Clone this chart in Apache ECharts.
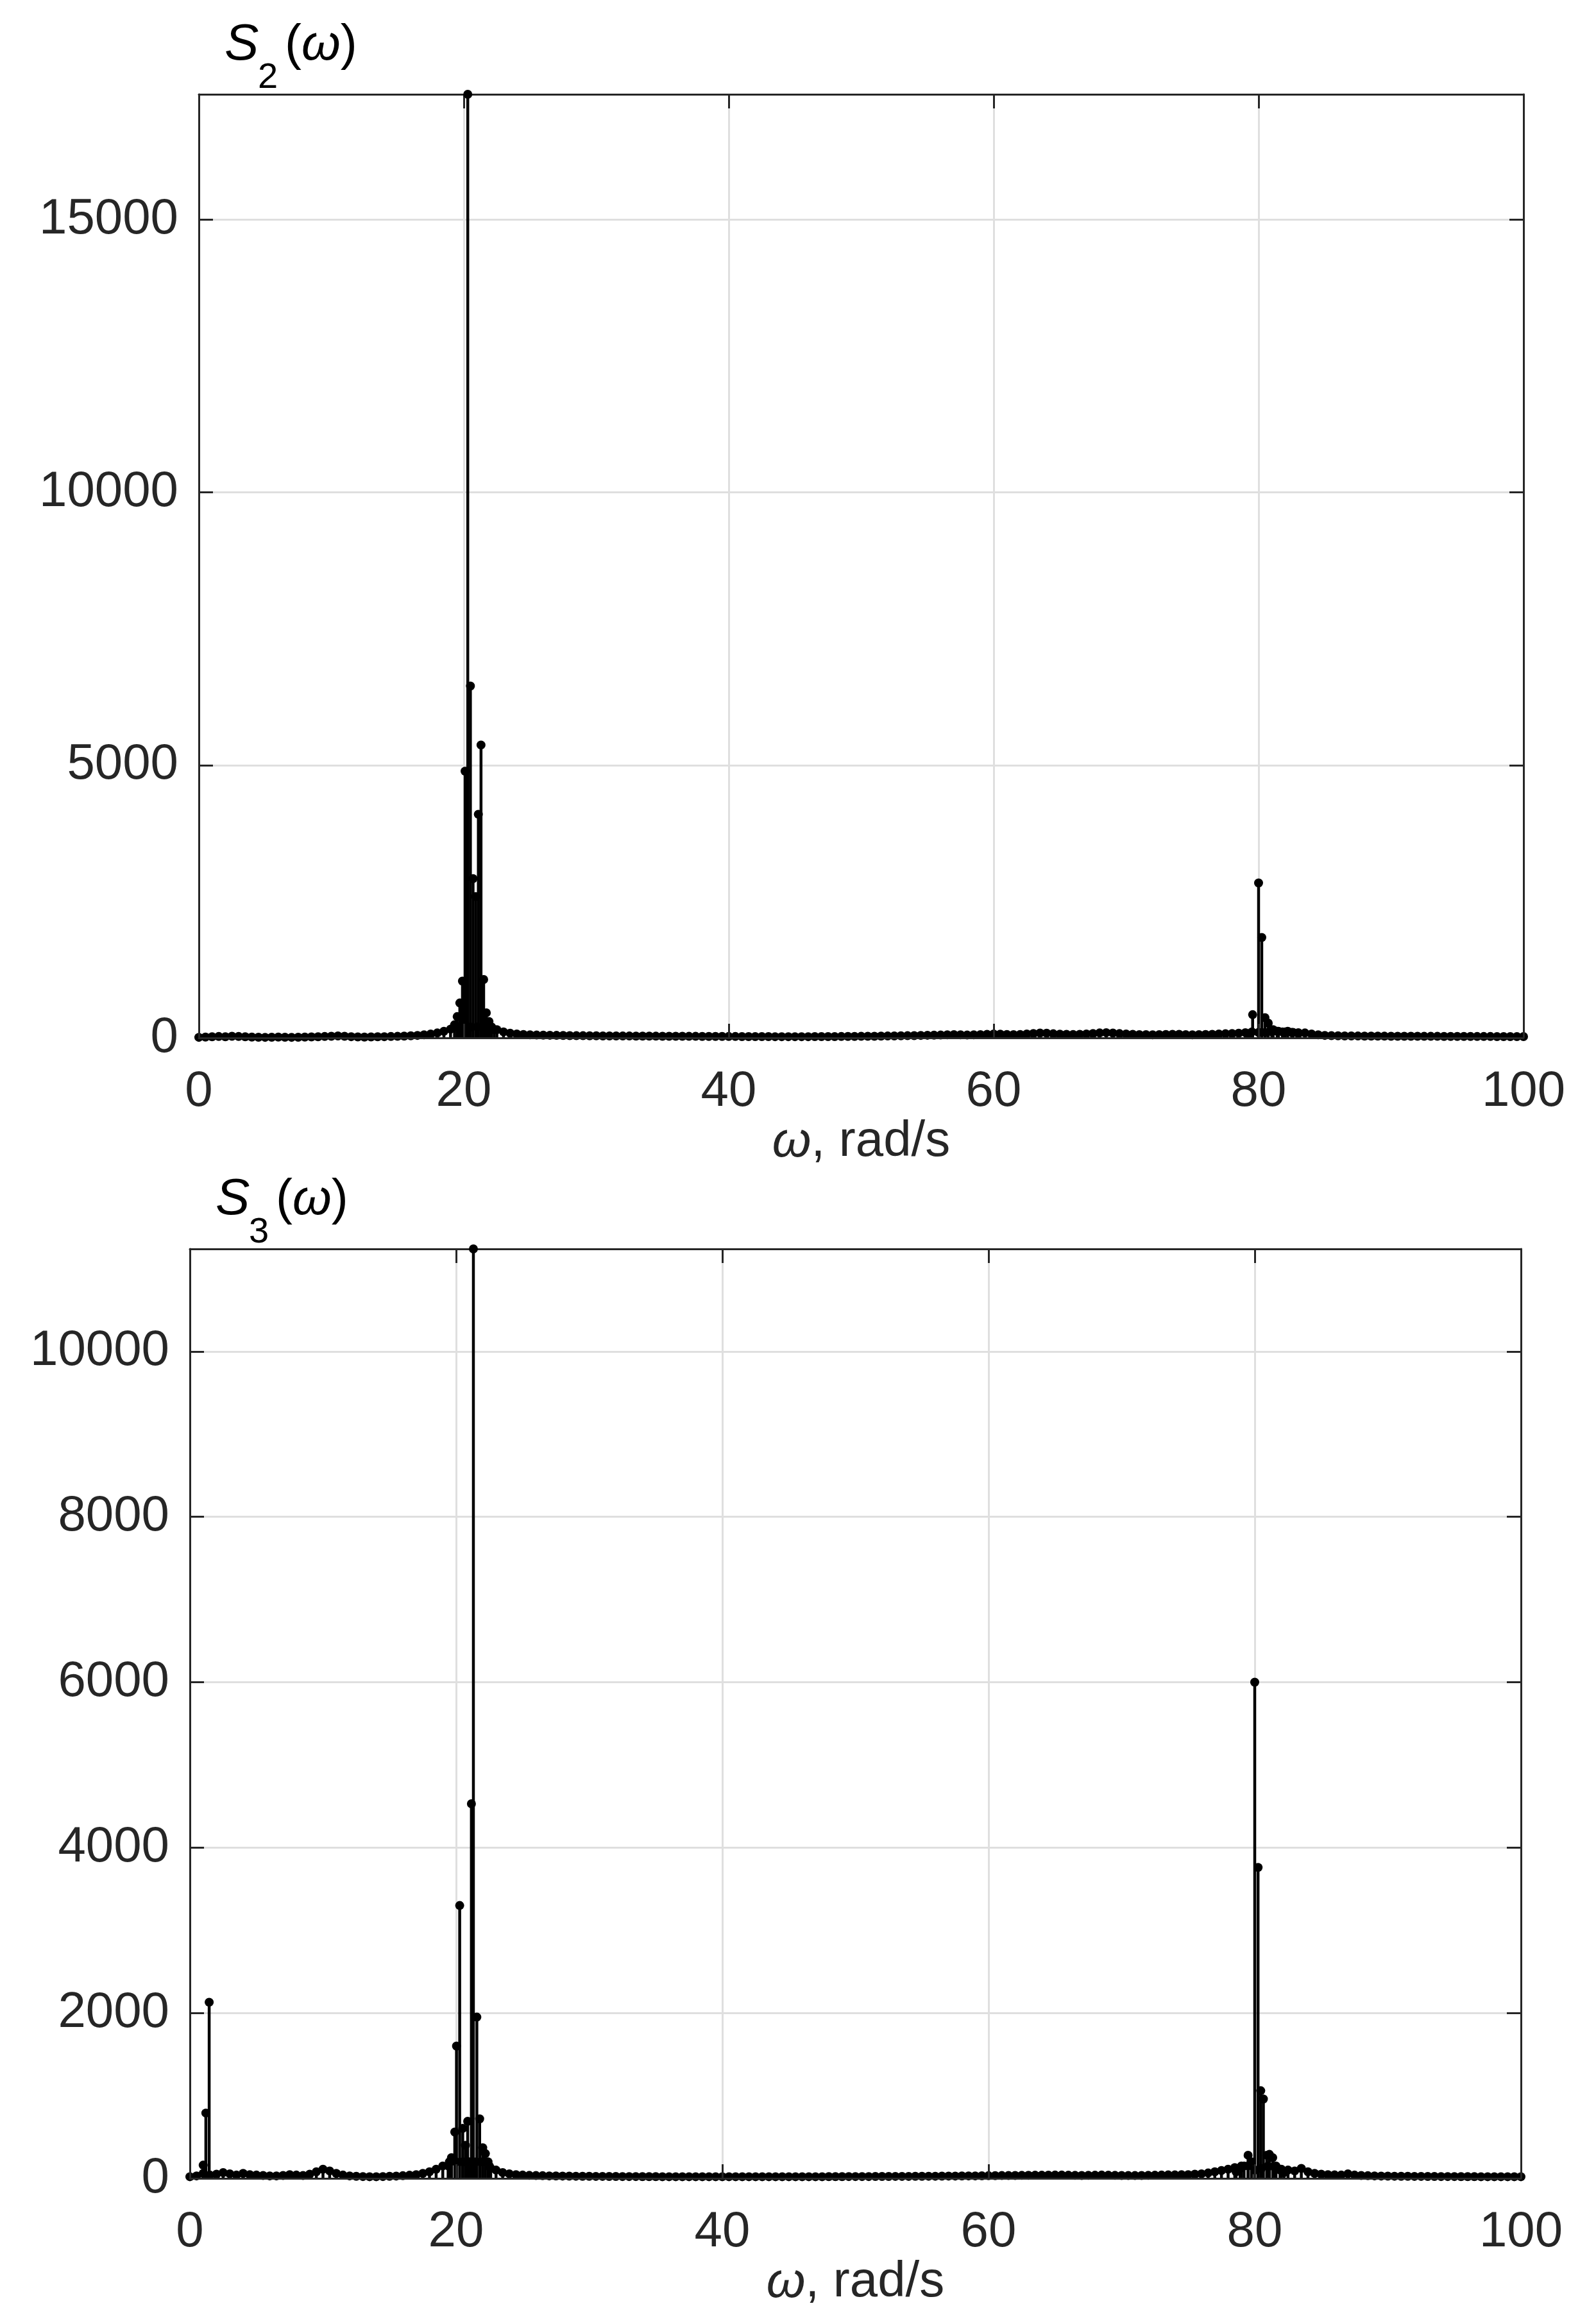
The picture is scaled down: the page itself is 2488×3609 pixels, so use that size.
<!DOCTYPE html>
<html>
<head>
<meta charset="utf-8">
<script src="https://cdn.jsdelivr.net/npm/echarts@6/dist/echarts.min.js"></script>
<style>
  html, body { margin: 0; padding: 0; background: #fff; }
  #chart { width: 2488px; height: 3609px; }
</style>
</head>
<body>
<div id="chart"></div>
<script>
// frequency axis (rad/s)
const wMin = 0
const wMax = 100
const wStep = 20

// low level spectrum floor, sampled every 0.5 rad/s from 0 to 100
const floorStart = 0
const floorStep = 0.5
const s2Floor = [
  10, 15, 20, 25, 20, 30, 25, 20, 15, 12,
  10, 12, 15, 12, 10, 12, 15, 18, 20, 25,
  30, 35, 30, 22, 18, 15, 18, 20, 22, 25,
  28, 32, 38, 45, 55, 70, 90, 120, 160, 200,
  200, 200, 200, 200, 200, 150, 110, 85, 70, 62,
  56, 52, 50, 48, 46, 44, 42, 40, 40, 38,
  38, 36, 36, 35, 34, 34, 33, 32, 32, 31,
  30, 30, 29, 29, 28, 28, 27, 27, 26, 26,
  25, 25, 24, 24, 24, 23, 23, 22, 22, 22,
  22, 22, 22, 23, 23, 24, 24, 25, 26, 27,
  28, 29, 30, 32, 34, 36, 38, 40, 42, 45,
  48, 50, 52, 55, 58, 55, 52, 55, 60, 65,
  70, 68, 62, 58, 62, 70, 80, 88, 85, 75,
  68, 65, 62, 66, 72, 80, 90, 95, 88, 78,
  70, 65, 60, 58, 56, 58, 62, 66, 64, 58,
  55, 58, 62, 65, 70, 75, 80, 85, 95, 110,
  100, 100, 110, 120, 110, 100, 95, 90, 70, 55,
  45, 40, 38, 36, 35, 34, 33, 32, 32, 31,
  30, 30, 30, 29, 29, 28, 28, 28, 27, 27,
  26, 26, 26, 25, 25, 25, 24, 24, 24, 24,
  24
]
// resonance lines of S2
const s2PeakW = [19.3, 19.5, 19.7, 19.9, 20.1, 20.3, 20.5, 20.7, 20.9, 21.1, 21.3, 21.5, 21.7, 21.9, 22.1, 22.3,
  79.3, 79.55, 80.0, 80.24, 80.48, 80.73, 81.1, 81.4, 81.8, 82.2, 82.6, 83.0]
const s2PeakV = [240, 390, 640, 1040, 4890, 17300, 6450, 2920, 2590, 4100, 5370, 1070, 460, 300, 200, 150,
  80, 425, 2840, 1840, 370, 270, 150, 120, 110, 120, 100, 80]

const s3Floor = [
  20, 30, 60, 40, 50, 70, 55, 40, 60, 45,
  40, 35, 30, 30, 35, 45, 40, 35, 50, 80,
  110, 90, 60, 40, 30, 25, 22, 20, 20, 22,
  25, 28, 32, 38, 45, 60, 80, 110, 150, 200,
  200, 200, 200, 200, 200, 150, 100, 70, 55, 45,
  40, 36, 34, 32, 30, 29, 28, 27, 26, 25,
  25, 24, 24, 23, 23, 22, 22, 22, 21, 21,
  21, 20, 20, 20, 20, 20, 20, 20, 20, 20,
  20, 20, 20, 20, 20, 20, 20, 20, 20, 20,
  20, 20, 20, 20, 20, 20, 21, 21, 21, 22,
  22, 22, 22, 23, 23, 23, 24, 24, 24, 25,
  25, 26, 26, 27, 28, 28, 29, 30, 30, 31,
  32, 33, 34, 34, 35, 36, 37, 38, 38, 39,
  40, 40, 38, 36, 35, 36, 38, 40, 38, 36,
  35, 34, 34, 35, 36, 38, 40, 42, 42, 44,
  45, 50, 55, 65, 80, 95, 110, 130, 150, 150,
  100, 120, 150, 130, 110, 100, 90, 120, 80, 60,
  50, 45, 42, 40, 55, 40, 35, 32, 30, 28,
  27, 26, 25, 25, 24, 24, 23, 23, 22, 22,
  22, 21, 21, 21, 20, 20, 20, 20, 20, 20,
  20
]
// resonance lines of S3
const s3PeakW = [1.0, 1.2, 1.45,
  19.4, 19.65, 19.9, 20.03, 20.27, 20.5, 20.7, 20.87, 21.15, 21.3, 21.56, 21.77, 22.0, 22.2, 22.4, 22.6,
  78.6, 78.9, 79.2, 79.5, 79.75, 80.0, 80.25, 80.45, 80.65, 80.9, 81.1, 81.35, 81.6, 81.9, 82.2]
const s3PeakV = [160, 790, 2130,
  150, 250, 560, 1600, 3300, 605, 400, 690, 4530, 11240, 1950, 720, 370, 300, 200, 120,
  80, 120, 150, 280, 200, 6000, 3760, 1060, 960, 280, 290, 250, 150, 100, 70]

const s2Max = 17300
const s2Step = 5000
const s3Max = 11240
const s3Step = 2000

var ink = '#262626'
var font = 'Liberation Sans'

function stemData (floor, peakW, peakV) {
  var out = []
  floor.forEach(function (v, i) {
    out.push([floorStart + i * floorStep, v])
  })
  peakW.forEach(function (w, i) {
    out.push([w, peakV[i]])
  })
  return out
}

function renderStem (params, api) {
  var base = api.coord([api.value(0), 0])
  var tip = api.coord([api.value(0), api.value(1)])
  return {
    type: 'group',
    children: [
      { type: 'line', shape: { x1: base[0], y1: base[1], x2: tip[0], y2: tip[1] }, style: { stroke: '#000', lineWidth: 4.5 } },
      { type: 'circle', shape: { cx: tip[0], cy: tip[1], r: 7 }, style: { fill: '#000' } }
    ]
  }
}

var tickStyle = { show: true, inside: true, length: 22, lineStyle: { color: ink, width: 3 } }
// keep every axis on its own edge of the box
var edgeLine = { show: true, onZero: false, lineStyle: { color: ink, width: 3 } }

function plainNumber (v) {
  return String(v)
}

// x axes: bottom one carries line, ticks, labels; top one carries grid lines and box edge
function xAxes (gridIndex) {
  return [
    {
      gridIndex: gridIndex, type: 'value', position: 'bottom', min: wMin, max: wMax, interval: wStep, z: 10,
      name: '{i|ω}, rad/s', nameLocation: 'middle', nameGap: 112,
      nameTextStyle: { color: ink, fontFamily: font, fontSize: 78, rich: { i: { fontStyle: 'italic', fontFamily: font, fontSize: 78, color: ink } } },
      axisLine: edgeLine,
      axisTick: tickStyle,
      axisLabel: { color: ink, fontFamily: font, fontSize: 78, margin: 45, formatter: plainNumber },
      splitLine: { show: false }
    },
    {
      gridIndex: gridIndex, type: 'value', position: 'top', min: wMin, max: wMax, interval: wStep, z: 0,
      axisLine: edgeLine,
      axisTick: tickStyle,
      axisLabel: { show: false },
      splitLine: { show: true, lineStyle: { color: '#dfdfdf', width: 3 } }
    }
  ]
}

function yAxes (gridIndex, max, step) {
  return [
    {
      gridIndex: gridIndex, type: 'value', position: 'left', min: 0, max: max, interval: step, z: 10,
      axisLine: edgeLine,
      axisTick: tickStyle,
      axisLabel: { color: ink, fontFamily: font, fontSize: 78, margin: 32, showMaxLabel: false, formatter: plainNumber },
      splitLine: { show: false }
    },
    {
      gridIndex: gridIndex, type: 'value', position: 'right', min: 0, max: max, interval: step, z: 0,
      axisLine: edgeLine,
      axisTick: tickStyle,
      axisLabel: { show: false },
      splitLine: { show: true, lineStyle: { color: '#dfdfdf', width: 3 } }
    }
  ]
}

// S_n(ω) labels above each panel
function panelTitle (left, boxTop, sub) {
  return {
    type: 'group',
    children: [
      { type: 'text', x: left, y: boxTop - 76, style: { text: 'S', font: 'italic 80px "Liberation Sans"', fill: '#000', verticalAlign: 'middle' } },
      { type: 'text', x: left + 52, y: boxTop - 25, style: { text: sub, font: '56px "Liberation Sans"', fill: '#000', verticalAlign: 'middle' } },
      {
        type: 'text', x: left + 94, y: boxTop - 76,
        style: {
          text: '{n|(}{i|ω}{n|)}', verticalAlign: 'middle', fill: '#000',
          rich: {
            n: { fontFamily: font, fontSize: 78, color: '#000' },
            i: { fontFamily: font, fontSize: 78, fontStyle: 'italic', color: '#000' }
          }
        }
      }
    ]
  }
}

var chart = echarts.init(document.getElementById('chart'), null, { renderer: 'canvas' })
var option = {
  backgroundColor: '#fff',
  animation: false,
  grid: [
    { left: 310, top: 147, width: 2065, height: 1471 },
    { left: 296, top: 1947, width: 2075, height: 1449 }
  ],
  xAxis: xAxes(0).concat(xAxes(1)),
  yAxis: yAxes(0, s2Max, s2Step).concat(yAxes(1, s3Max, s3Step)),
  graphic: [
    panelTitle(350, 147, '2'),
    panelTitle(336, 1947, '3')
  ],
  series: [
    {
      name: 'S2', type: 'custom', xAxisIndex: 0, yAxisIndex: 0, clip: false,
      encode: { x: 0, y: 1 }, renderItem: renderStem,
      data: stemData(s2Floor, s2PeakW, s2PeakV)
    },
    {
      name: 'S3', type: 'custom', xAxisIndex: 2, yAxisIndex: 2, clip: false,
      encode: { x: 0, y: 1 }, renderItem: renderStem,
      data: stemData(s3Floor, s3PeakW, s3PeakV)
    }
  ]
}
chart.setOption(option)
</script>
</body>
</html>
